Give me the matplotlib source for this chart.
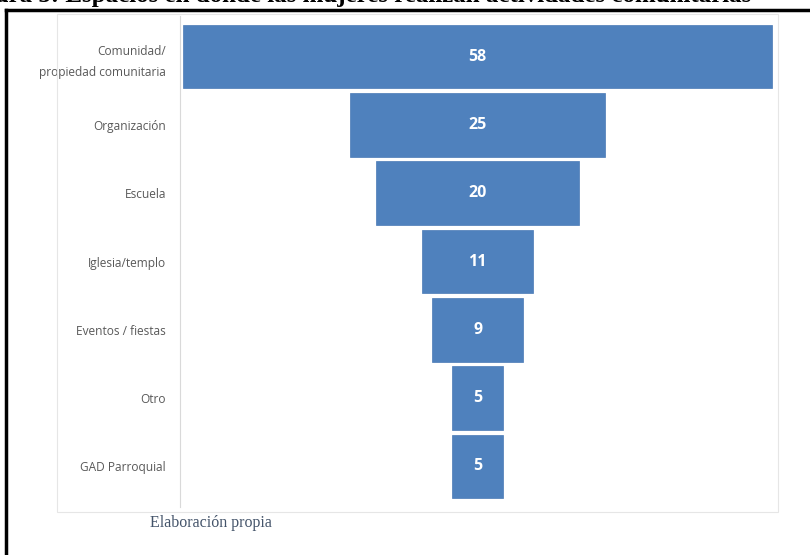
import matplotlib.pyplot as plt
from matplotlib.patches import Rectangle
from matplotlib.lines import Line2D

categorias = ["Comunidad/\npropiedad comunitaria", "Organización", "Escuela",
              "Iglesia/templo", "Eventos / fiestas", "Otro", "GAD Parroquial"]
valores = [58, 25, 20, 11, 9, 5, 5]

W, H = 810, 555
fig = plt.figure(figsize=(W / 100, H / 100), dpi=100)


def fx(px):
    return px / W


def fy(py):
    return 1 - py / H


# title cut off at the top of the page
fig.text(fx(-40), fy(2), "Figura 5: Espacios en donde las mujeres realizan actividades comunitarias",
         family="Liberation Serif", weight="bold", fontsize=18, ha="left", va="baseline", color="black")

# black frame of the page
fig.add_artist(Line2D([fx(6), fx(6)], [fy(10), 0], color="black", lw=2.5))
fig.add_artist(Line2D([fx(6), 1], [fy(10), fy(10)], color="black", lw=2.5))

# light chart area border
fig.add_artist(Rectangle((fx(57), fy(512)), fx(778) - fx(57), fy(14) - fy(512),
                         transform=fig.transFigure, fill=False, edgecolor="#E6E6E6", lw=0.8))

ax = fig.add_axes([fx(180), fy(500.5), fx(775) - fx(180), (500.5 - 22.5) / H])
ypos = list(range(len(valores)))
izq = [-v / 2 for v in valores]
ax.barh(ypos, valores, left=izq, height=0.93, color="#4F81BD", edgecolor="#4A7AB5", lw=0.5)
for y, v in zip(ypos, valores):
    ax.text(0, y, str(v), ha="center", va="center", color="white",
            fontsize=11.5, weight="bold", family="Open Sans")

ax.set_xlim(-29.25, 29.25)
ax.set_ylim(6.5, -0.5)
ax.set_yticks(ypos)
ax.set_yticklabels(categorias, fontsize=8.6, color="#595959", family="Open Sans", linespacing=1.75)
ax.tick_params(axis="y", length=0, pad=10)
ax.set_xticks([])
for s in ["top", "right", "bottom"]:
    ax.spines[s].set_visible(False)
ax.spines["left"].set_color("#D9D9D9")
ax.spines["left"].set_linewidth(0.8)
ax.spines["left"].set_bounds(6.6, -0.6)

fig.text(fx(150), fy(523), "Elaboración propia", family="Liberation Serif", fontsize=11.5,
         color="#44546A", ha="left", va="center")

fig.savefig("out.png", dpi=100)
